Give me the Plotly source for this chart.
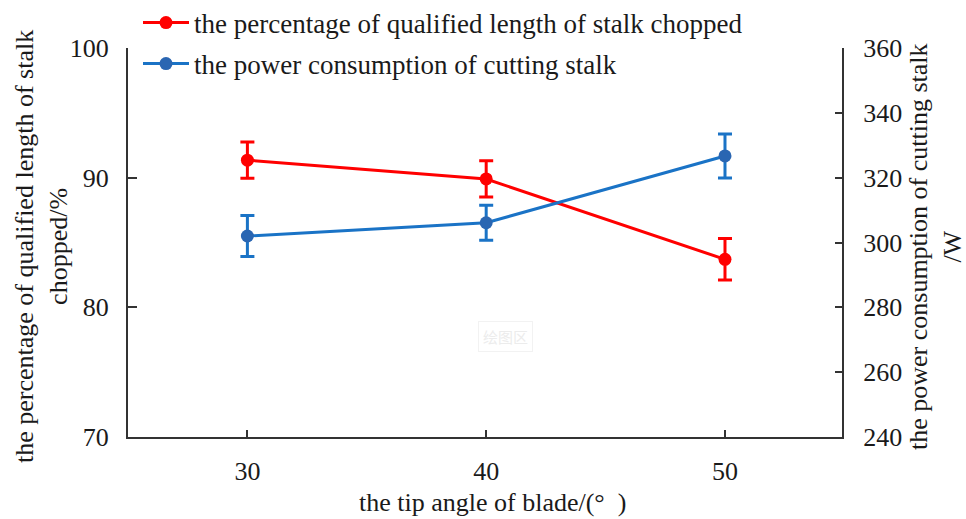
import plotly.graph_objects as go

# ---- data ----
tip_angle = [30, 40, 50]
qualified_pct = [91.35, 89.9, 83.7]
qualified_err = [1.4, 1.4, 1.6]
power_w = [302.0, 306.1, 326.7]
power_err = [6.3, 5.4, 6.8]

x_ticks = [30, 40, 50]
y1_ticks = [70, 80, 90, 100]
y2_ticks = [240, 260, 280, 300, 320, 340, 360]

name_red = "the percentage of qualified length of stalk chopped"
name_blue = "the power consumption of cutting stalk"
x_title = "the tip angle of blade/(°\u2002)"
y1_title = "the percentage of qualified length of stalk<br>chopped/%"
y2_title = "the power consumption of cutting stalk<br>/W"

FONT = "Liberation Serif, Times New Roman, serif"
FS = 26
RED = "#FF0000"
BLUE_LINE = "#1A73C6"
BLUE_MK = "#2A66B2"
AX = "#333333"

# plot area in px
W, H = 966, 519
L, R, T, B = 128, 842, 48, 437


def px_x(p):
    return (p - L) / (R - L)


def px_y(p):
    return (B - p) / (B - T)


fig = go.Figure()
fig.add_trace(go.Scatter(
    x=tip_angle, y=qualified_pct, name=name_red, mode="lines+markers",
    line=dict(color=RED, width=3), marker=dict(color=RED, size=13),
    error_y=dict(type="data", array=qualified_err, visible=True,
                 color=RED, thickness=3, width=7),
    legend="legend", yaxis="y"))
fig.add_trace(go.Scatter(
    x=tip_angle, y=power_w, name=name_blue, mode="lines+markers",
    line=dict(color=BLUE_LINE, width=3), marker=dict(color=BLUE_MK, size=13),
    error_y=dict(type="data", array=power_err, visible=True,
                 color=BLUE_LINE, thickness=3, width=7),
    legend="legend2", yaxis="y2"))

tickfont = dict(family=FONT, size=FS, color="#1a1a1a")

fig.update_layout(
    width=W, height=H,
    margin=dict(l=L, r=W - R, t=T, b=H - B, pad=0, autoexpand=False),
    paper_bgcolor="white", plot_bgcolor="white",
    font=dict(family=FONT, size=FS, color="#1a1a1a"),
    xaxis=dict(range=[25, 54.9], tickvals=x_ticks, ticks="inside", ticklen=7,
               tickwidth=1.5, tickcolor=AX, showline=True, linecolor=AX,
               linewidth=2, showgrid=False, zeroline=False, tickfont=tickfont,
               ticklabelstandoff=10, automargin=False),
    yaxis=dict(range=[70, 100], tickvals=y1_ticks, ticks="inside", ticklen=9,
               tickwidth=1.5, tickcolor=AX, showline=True, linecolor=AX,
               linewidth=2, showgrid=False, zeroline=False, tickfont=tickfont,
               ticklabelstandoff=12, automargin=False),
    yaxis2=dict(range=[240, 360], tickvals=y2_ticks, ticks="inside", ticklen=7,
                tickwidth=1.5, tickcolor=AX, showline=True, linecolor=AX,
                linewidth=2, showgrid=False, zeroline=False, overlaying="y",
                side="right", tickfont=tickfont, ticklabelstandoff=14,
                automargin=False),
    legend=dict(x=px_x(138), y=px_y(23), xanchor="left", yanchor="middle",
                bgcolor="rgba(0,0,0,0)", font=dict(family=FONT, size=27),
                itemwidth=46),
    legend2=dict(x=px_x(138), y=px_y(64), xanchor="left", yanchor="middle",
                 bgcolor="rgba(0,0,0,0)", font=dict(family=FONT, size=27),
                 itemwidth=46),
    showlegend=True,
)

fig.add_annotation(text=x_title, xref="paper", yref="paper",
                   x=px_x(492), y=px_y(502), xanchor="center", yanchor="middle",
                   showarrow=False, font=dict(family=FONT, size=FS))
fig.add_annotation(text=y1_title, xref="paper", yref="paper",
                   x=px_x(41), y=px_y(247), xanchor="center", yanchor="middle",
                   textangle=-90, showarrow=False,
                   font=dict(family=FONT, size=FS))
fig.add_annotation(text=y2_title, xref="paper", yref="paper",
                   x=px_x(935), y=px_y(247), xanchor="center", yanchor="middle",
                   textangle=-90, showarrow=False,
                   font=dict(family=FONT, size=FS))
fig.add_annotation(text="绘图区", xref="paper", yref="paper",
                   x=px_x(505), y=px_y(352), showarrow=False,
                   font=dict(family="Noto Sans CJK SC", size=15, color="#ececec"),
                   bordercolor="#f2f2f2", borderwidth=1, borderpad=4)

fig.write_html("out.html")
